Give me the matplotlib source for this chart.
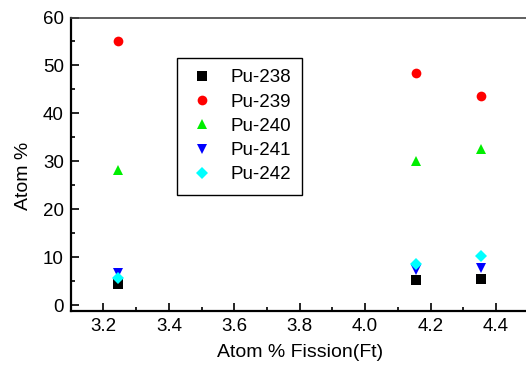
import matplotlib
matplotlib.use("Agg")
import matplotlib.pyplot as plt
from matplotlib.ticker import MultipleLocator

plt.rcParams["font.family"] = ["Liberation Sans", "DejaVu Sans"]

# burnup (atom % fission) for the three samples
fission = [3.245, 4.155, 4.355]

# isotopic composition, atom %
pu238 = [4.4, 5.2, 5.6]
pu239 = [55.2, 48.5, 43.6]
pu240 = [28.2, 30.2, 32.6]
pu241 = [6.7, 7.3, 7.9]
pu242 = [5.8, 8.7, 10.2]

series = [
    ("Pu-238", pu238, "s", "black"),
    ("Pu-239", pu239, "o", "red"),
    ("Pu-240", pu240, "^", "#00ee00"),
    ("Pu-241", pu241, "v", "blue"),
    ("Pu-242", pu242, "D", "cyan"),
]

fig = plt.figure(figsize=(5.26, 3.67), dpi=100)
ax = fig.add_axes([0.1344, 0.1534, 0.8708, 0.7989])

for name, vals, mk, col in series:
    ms = 6.5 if mk == "D" else 7
    ax.plot(fission, vals, linestyle="none", marker=mk, color=col,
            markersize=ms, markeredgewidth=0, label=name)

ax.set_xlim(3.1, 4.5)
ax.set_ylim(-1.1, 60)
ax.xaxis.set_major_locator(MultipleLocator(0.2))
ax.xaxis.set_minor_locator(MultipleLocator(0.1))
ax.yaxis.set_major_locator(MultipleLocator(10))
ax.yaxis.set_minor_locator(MultipleLocator(5))
ax.tick_params(which="both", direction="in", labelsize=13.5, width=1.2)
ax.tick_params(which="major", length=6)
ax.tick_params(which="minor", length=3)
ax.tick_params(axis="x", pad=5)
ax.tick_params(axis="y", pad=5)

for side in ("left", "bottom"):
    ax.spines[side].set_linewidth(1.6)
ax.spines["top"].set_linewidth(1.2)
ax.spines["top"].set_color("#444444")

ax.set_xlabel("Atom % Fission(Ft)", fontsize=14)
ax.set_ylabel("Atom %", fontsize=14)
ax.xaxis.set_label_coords(0.5, -0.115)
ax.yaxis.set_label_coords(-0.085, 0.46)

leg = ax.legend(loc="upper left", bbox_to_anchor=(0.232, 0.862),
                borderaxespad=0, fontsize=13.5, fancybox=False,
                edgecolor="black", framealpha=1, handletextpad=0.75,
                labelspacing=0.38, borderpad=0.6, handlelength=1.5)
leg.get_frame().set_linewidth(1.0)

fig.savefig("out.png", dpi=100)
